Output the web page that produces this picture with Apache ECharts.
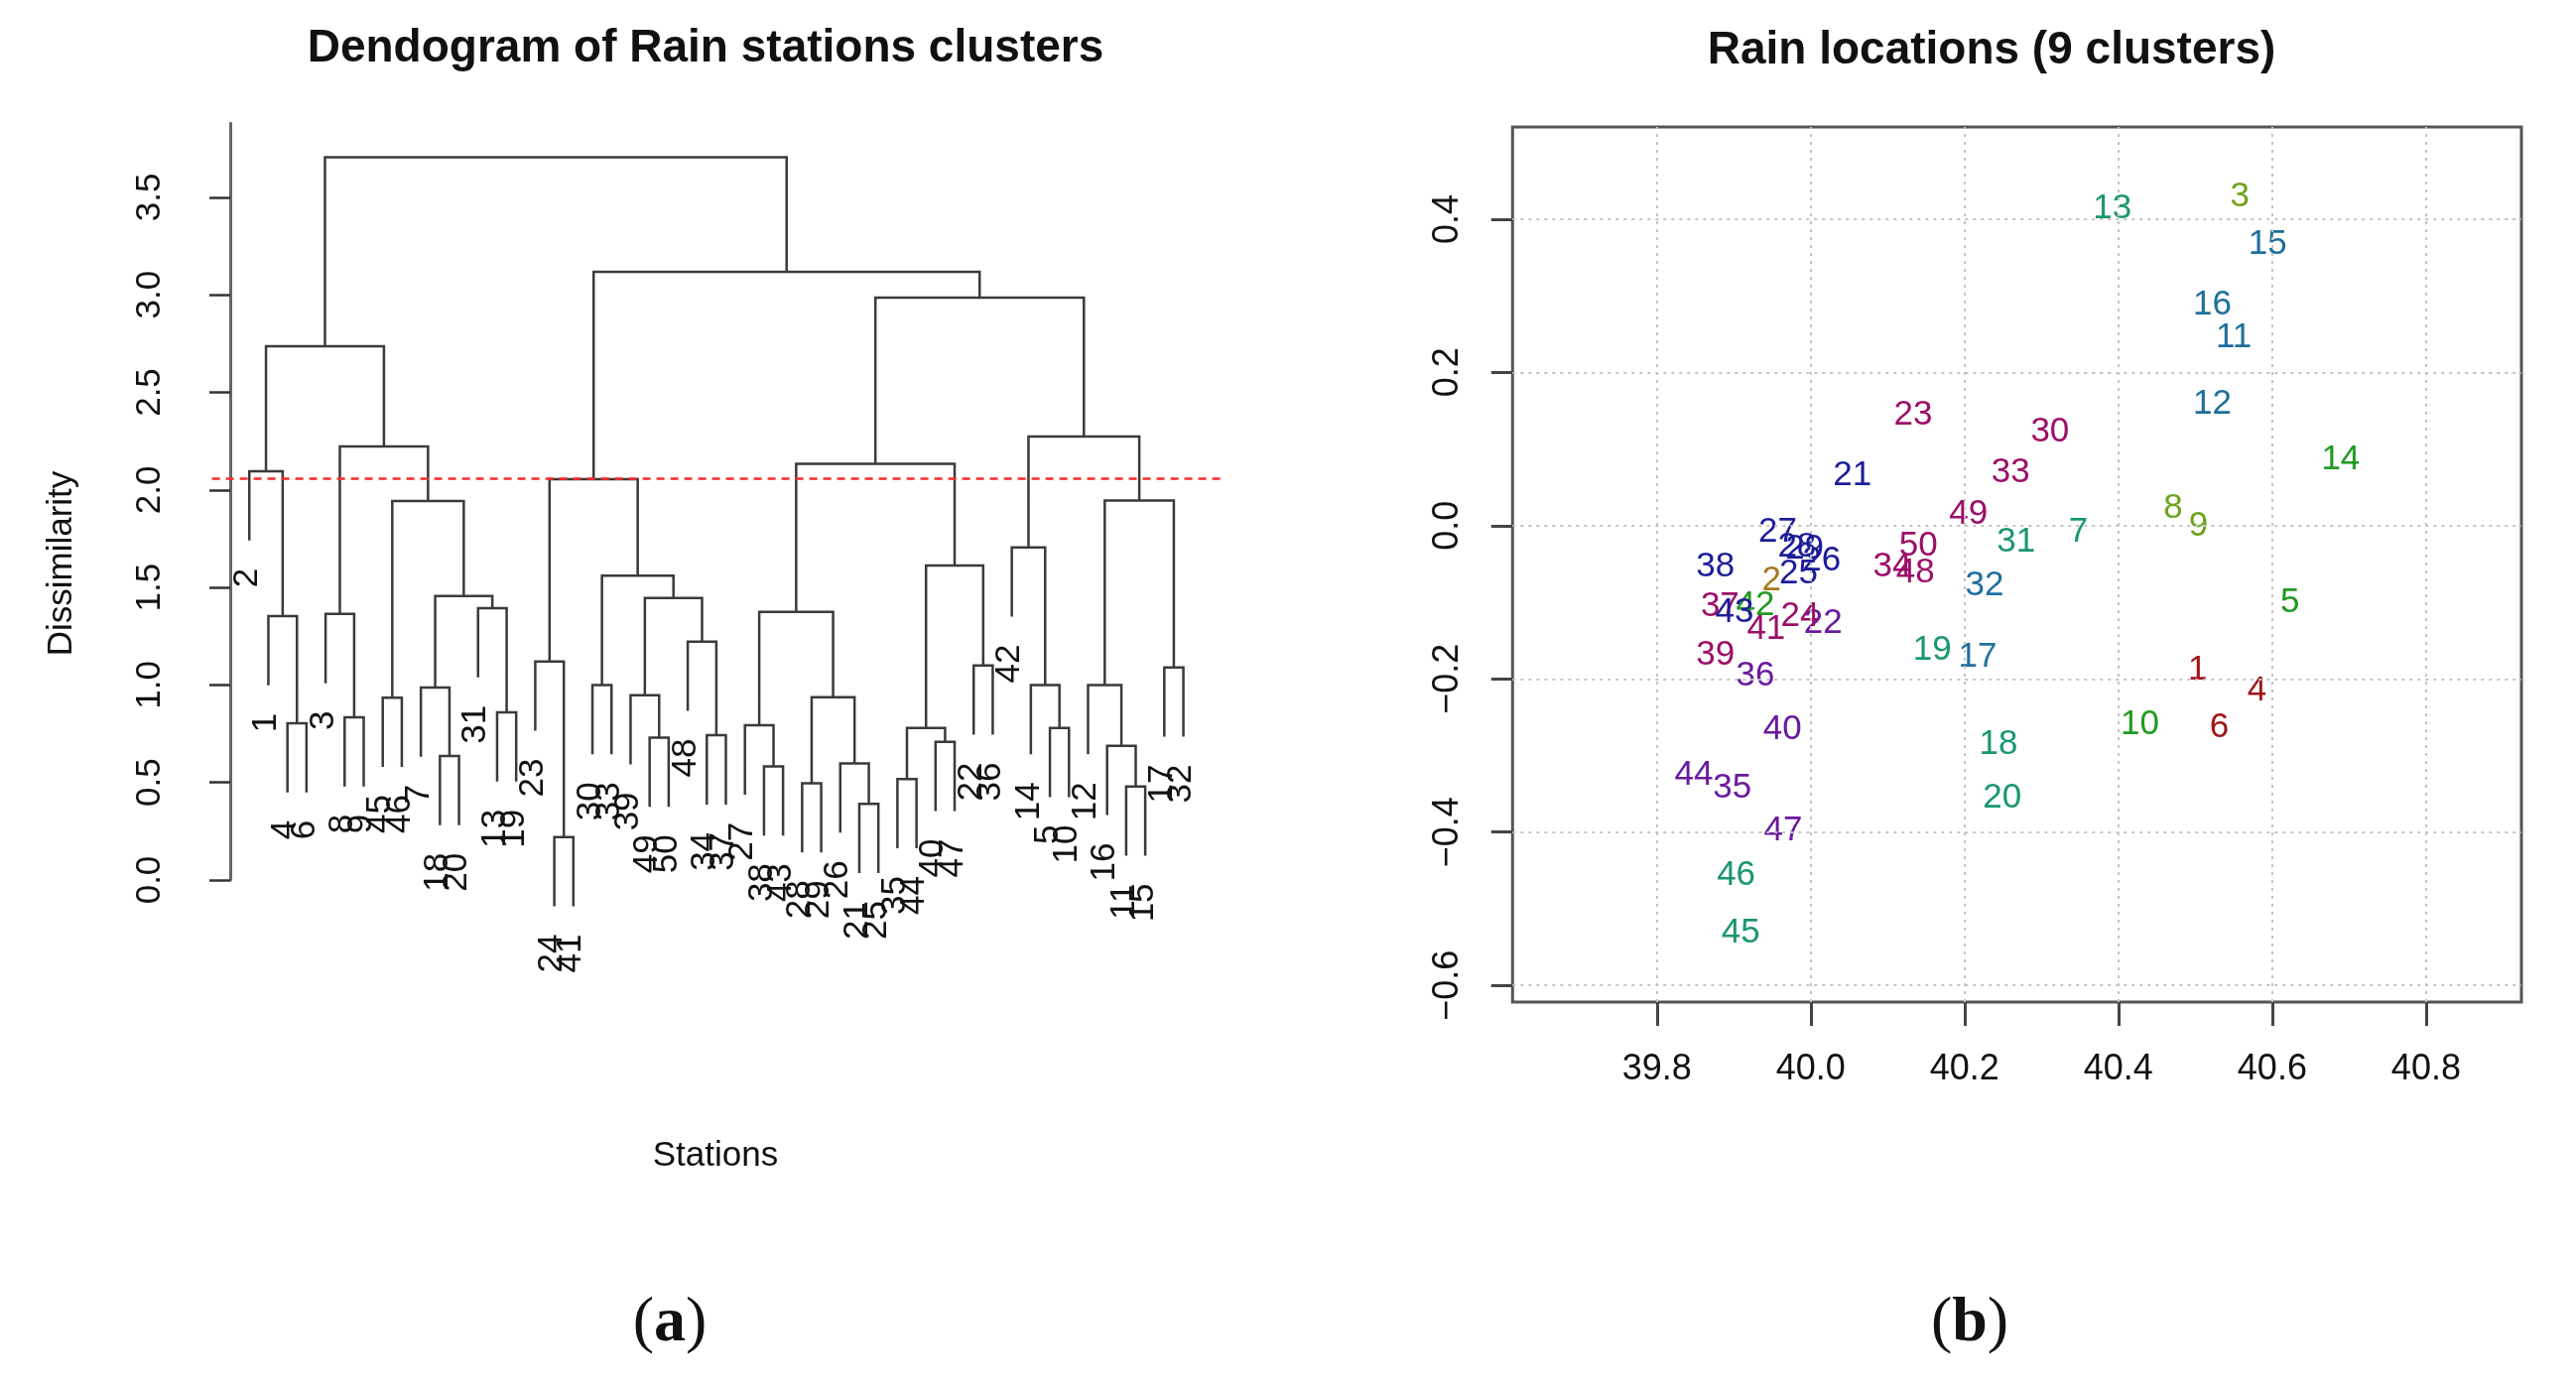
<!DOCTYPE html>
<html>
<head>
<meta charset="utf-8">
<script src="https://cdn.jsdelivr.net/npm/echarts@6/dist/echarts.min.js"></script>
<style>
  html, body { margin: 0; padding: 0; background: #fff; }
  #chart { width: 2596px; height: 1396px; }
</style>
</head>
<body>
<div id="chart"></div>
<script>
const FONT = '"Liberation Sans", Arial, Helvetica, sans-serif';

// ---- dendrogram (hclust style: negative = station, positive = merge row) ----
const leafOrder = [2, 1, 4, 6, 3, 8, 9, 45, 46, 7, 18, 20, 31, 13, 19, 23, 24, 41, 30, 33,
  39, 49, 50, 48, 34, 37, 27, 38, 43, 28, 29, 26, 21, 25, 35, 44, 40, 47, 22, 36,
  42, 14, 5, 10, 12, 16, 11, 15, 17, 32];
const mergeLeft = [-24, -21, -11, -28, -35, -38, -26, -18, -16, -40,
  -49, -34, -5, 5, -27, -4, -8, -13, -45, 4,
  -39, -7, -30, -14, -12, -17, -22, -23, -48, -1,
  -3, 15, -31, 21, 22, 23, 14, -42, 19, 25,
  28, -2, 32, 31, 38, 42, 43, 41, 46];
const mergeRight = [-41, -25, -15, -29, -44, -43, 2, -20, 3, -47,
  -50, -37, -10, 10, 6, -6, -9, -19, -46, 7,
  11, 8, -33, 13, 9, -32, -36, 1, 12, 16,
  17, 20, 18, 29, 33, 34, 27, 24, 35, 26,
  36, 30, 37, 39, 40, 44, 45, 47, 48];
const mergeHeight = [0.22, 0.39, 0.48, 0.496, 0.518, 0.583, 0.598, 0.636, 0.688, 0.708,
  0.73, 0.742, 0.78, 0.78, 0.793, 0.804, 0.834, 0.86, 0.935, 0.937,
  0.948, 0.987, 1.0, 1.0, 1.0, 1.09, 1.1, 1.12, 1.222, 1.353,
  1.364, 1.374, 1.394, 1.446, 1.456, 1.56, 1.612, 1.705, 1.943, 1.946,
  2.055, 2.096, 2.134, 2.223, 2.274, 2.737, 2.986, 3.118, 3.706];
const cutHeight = 2.06;
const hang = 0.355;
const dissimTicks = [0, 0.5, 1, 1.5, 2, 2.5, 3, 3.5];

// ---- station locations, station 1..50 ----
const stationX = [40.503, 39.949, 40.558, 40.580, 40.623, 40.531, 40.348, 40.471, 40.504, 40.428,
  40.550, 40.522, 40.392, 40.689, 40.594, 40.522, 40.217, 40.244, 40.158, 40.249,
  40.054, 40.016, 40.133, 39.986, 39.984, 40.014, 39.957, 39.982, 39.992, 40.311,
  40.267, 40.226, 40.260, 40.106, 39.898, 39.928, 39.882, 39.876, 39.876, 39.963,
  39.942, 39.928, 39.901, 39.848, 39.909, 39.903, 39.964, 40.136, 40.205, 40.140];
const stationY = [-0.189, -0.072, 0.429, -0.216, -0.101, -0.263, -0.008, 0.022, -0.001, -0.260,
  0.245, 0.158, 0.413, 0.086, 0.367, 0.288, -0.172, -0.286, -0.163, -0.356,
  0.065, -0.128, 0.144, -0.119, -0.063, -0.046, -0.008, -0.028, -0.030, 0.122,
  -0.022, -0.078, 0.069, -0.054, -0.342, -0.196, -0.106, -0.054, -0.169, -0.266,
  -0.136, -0.104, -0.113, -0.326, -0.532, -0.456, -0.398, -0.061, 0.015, -0.026];
const stationCluster = [1, 2, 3, 1, 4, 1, 5, 3, 3, 4,
  6, 6, 5, 4, 6, 6, 6, 5, 5, 5,
  7, 8, 9, 9, 7, 7, 7, 7, 7, 9,
  5, 6, 9, 9, 8, 8, 9, 7, 9, 8,
  9, 4, 7, 8, 5, 5, 8, 9, 9, 9];
const lonTicks = [39.8, 40.0, 40.2, 40.4, 40.6, 40.8];
const latTicks = [-0.6, -0.4, -0.2, 0.0, 0.2, 0.4];

const clusterColors = ['#a0161b', '#a8771a', '#6ea21e', '#219a21', '#1b9672',
  '#1e6f9c', '#1c1c9a', '#6a1a9e', '#9c1068'];

// build the segments the way plot.hclust does
const leafPos = {};
leafOrder.forEach((s, i) => { leafPos[s] = i + 1; });
const nodeX = [];
const segs = [];
const leaves = [];
mergeHeight.forEach((h, k) => {
  const ends = [mergeLeft[k], mergeRight[k]].map(c => {
    if (c < 0) {
      const x = leafPos[-c];
      leaves.push([x, h - hang, -c]);
      return [x, h - hang];
    }
    return [nodeX[c - 1], mergeHeight[c - 1]];
  });
  nodeX[k] = (ends[0][0] + ends[1][0]) / 2;
  segs.push([ends[0][0], ends[0][1], ends[1][0], ends[1][1], h]);
});

const chart = echarts.init(document.getElementById('chart'), null, { renderer: 'canvas' });

chart.setOption({
  animation: false,
  backgroundColor: '#fff',
  grid: [
    { left: 213.6, top: 124.2, width: 1016.6, height: 762.8 },
    { left: 1524.3, top: 127.9, width: 1016.7, height: 882.1,
      show: true, borderColor: '#555', borderWidth: 3, backgroundColor: 'transparent' }
  ],
  xAxis: [
    { gridIndex: 0, type: 'value', min: -0.96, max: 51.96, show: false },
    {
      gridIndex: 1, type: 'value', min: 39.6123, max: 40.924,
      axisLine: { show: false, onZero: false },
      axisTick: { show: true, length: 24, customValues: lonTicks, lineStyle: { color: '#444', width: 3 } },
      axisLabel: { customValues: lonTicks, margin: 50, fontSize: 36, fontFamily: FONT, color: '#111',
        formatter: v => v.toFixed(1) },
      splitLine: { show: false }
    }
  ],
  yAxis: [
    {
      gridIndex: 0, type: 'value', min: 0, max: 3.88,
      axisLine: { show: true, lineStyle: { color: '#666', width: 3 } },
      axisTick: { show: true, length: 21, customValues: dissimTicks, lineStyle: { color: '#333', width: 2.5 } },
      axisLabel: { customValues: dissimTicks, rotate: 90, margin: 45, fontSize: 35, fontFamily: FONT, color: '#111',
        formatter: v => v.toFixed(1) },
      splitLine: { show: false }
    },
    {
      gridIndex: 1, type: 'value', min: -0.6218, max: 0.5204,
      axisLine: { show: false, onZero: false },
      axisTick: { show: true, length: 21.5, customValues: latTicks, lineStyle: { color: '#444', width: 3 } },
      axisLabel: { customValues: latTicks, rotate: 90, margin: 47, fontSize: 36, fontFamily: FONT, color: '#111',
        formatter: v => v.toFixed(1).replace('-', '\u2212') },
      splitLine: { show: false }
    }
  ],
  graphic: [
    { type: 'text', x: 711, y: 49, style: { text: 'Dendogram of Rain stations clusters', fontSize: 46,
      fontWeight: 'bold', fontFamily: FONT, fill: '#111', align: 'center', verticalAlign: 'middle' } },
    { type: 'text', x: 2007, y: 51, style: { text: 'Rain locations (9 clusters)', fontSize: 46,
      fontWeight: 'bold', fontFamily: FONT, fill: '#111', align: 'center', verticalAlign: 'middle' } },
    { type: 'text', x: 62, y: 568, rotation: Math.PI / 2, style: { text: 'Dissimilarity', fontSize: 35,
      fontFamily: FONT, fill: '#111', align: 'center', verticalAlign: 'middle' } },
    { type: 'text', x: 721, y: 1165, style: { text: 'Stations', fontSize: 35,
      fontFamily: FONT, fill: '#111', align: 'center', verticalAlign: 'middle' } },
    { type: 'text', x: 675, y: 1334, style: { text: '({b|a})', fontSize: 64, fontFamily: '"Liberation Serif", serif',
      fill: '#111', align: 'center', verticalAlign: 'middle',
      rich: { b: { fontSize: 64, fontWeight: 'bold', fontFamily: '"Liberation Serif", serif' } } } },
    { type: 'text', x: 1985, y: 1334, style: { text: '({b|b})', fontSize: 64, fontFamily: '"Liberation Serif", serif',
      fill: '#111', align: 'center', verticalAlign: 'middle',
      rich: { b: { fontSize: 64, fontWeight: 'bold', fontFamily: '"Liberation Serif", serif' } } } }
  ],
  series: [
    {
      type: 'custom',
      name: 'merges',
      xAxisIndex: 0, yAxisIndex: 0,
      clip: false,
      encode: { x: [0, 2], y: [1, 3, 4] },
      data: segs,
      renderItem: (params, api) => {
        const a = api.coord([api.value(0), api.value(1)]);
        const b = api.coord([api.value(0), api.value(4)]);
        const c = api.coord([api.value(2), api.value(4)]);
        const d = api.coord([api.value(2), api.value(3)]);
        return {
          type: 'polyline',
          shape: { points: [a, b, c, d] },
          style: { stroke: '#3a3a3a', lineWidth: 2.5, fill: null }
        };
      },
      markLine: {
        silent: true,
        symbol: ['none', 'none'],
        label: { show: false },
        lineStyle: { color: '#ff2a2a', type: [8, 6], width: 2.5 },
        data: [{ yAxis: cutHeight }]
      }
    },
    {
      type: 'custom',
      name: 'leaf labels',
      xAxisIndex: 0, yAxisIndex: 0,
      clip: false,
      encode: { x: 0, y: 1 },
      data: leaves,
      renderItem: (params, api) => {
        const p = api.coord([api.value(0), api.value(1)]);
        return {
          type: 'text',
          x: p[0] - 2,
          y: p[1] + 28,
          rotation: Math.PI / 2,
          style: { text: String(api.value(2)), fontSize: 35, fontFamily: FONT, fill: '#111',
            align: 'right', verticalAlign: 'middle' }
        };
      }
    },
    {
      type: 'scatter',
      name: 'stations',
      xAxisIndex: 1, yAxisIndex: 1,
      symbolSize: 1,
      itemStyle: { color: 'rgba(0,0,0,0)', opacity: 1 },
      label: { show: true, position: 'inside', fontSize: 35, fontFamily: FONT,
        formatter: p => String(p.value[2]) },
      labelLayout: { hideOverlap: false },
      data: stationX.map((x, i) => ({
        value: [x, stationY[i], i + 1],
        label: { color: clusterColors[stationCluster[i] - 1] }
      })),
      markLine: {
        silent: true,
        symbol: ['none', 'none'],
        label: { show: false },
        lineStyle: { color: '#c4c4c4', type: [3, 5], width: 2 },
        data: lonTicks.map(v => ({ xAxis: v })).concat(latTicks.map(v => ({ yAxis: v })))
      }
    }
  ]
});
</script>
</body>
</html>
